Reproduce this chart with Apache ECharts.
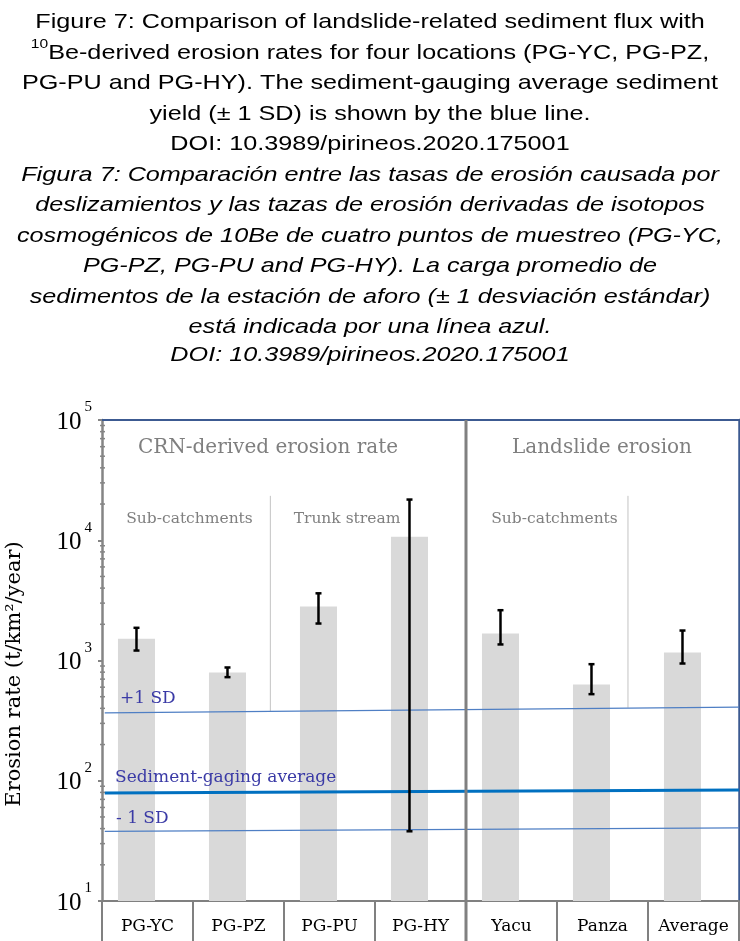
<!DOCTYPE html>
<html><head><meta charset="utf-8">
<script src="https://cdn.jsdelivr.net/npm/echarts@6/dist/echarts.min.js"></script>
<style>html,body{margin:0;padding:0;background:#fff}#c{width:740px;height:941px}</style>
</head><body><div id="c"></div>
<script>
// ---- data ----
const categories = ['PG-YC', 'PG-PZ', 'PG-PU', 'PG-HY', 'Yacu', 'Panza', 'Average'];
const erosionRate = [1520, 795, 2810, 10700, 1680, 632, 1165];
const errorHigh   = [1870, 875, 3620, 21800, 2620, 932, 1775];
const errorLow    = [1210, 727, 2030, 38, 1360, 525, 944];
const yTickValues = [10, 100, 1000, 10000, 100000];
const yTickExponents = ['1', '2', '3', '4', '5'];
const minorTickValues = [20, 30, 40, 50, 60, 70, 80, 90,
  200, 300, 400, 500, 600, 700, 800, 900,
  2000, 3000, 4000, 5000, 6000, 7000, 8000, 9000,
  20000, 30000, 40000, 50000, 60000, 70000, 80000, 90000];
// reference lines: value at left end and right end of the plot
const lineX = [0.03, 7];
const sdUpper = [367, 409];
const gaugingAverage = [79, 83.7];
const sdLower = [37.9, 40.5];
// thin section dividers (x in category units, from top value to bottom value)
const thinDividerX = [1.85, 5.78];
const thinDividerTop = [23400, 23400];
const thinDividerBottom = [378, 405];
const sectionDividerX = [4];

const serif = 'DejaVu Serif';
const chart = echarts.init(document.getElementById('c'), null, {renderer: 'canvas'});

const titleLines = [
  'Figure 7: Comparison of landslide-related sediment flux with',
  '{sup|10}Be-derived erosion rates for four locations (PG-YC, PG-PZ,',
  'PG-PU and PG-HY). The sediment-gauging average sediment',
  'yield (± 1 SD) is shown by the blue line.',
  'DOI: 10.3989/pirineos.2020.175001',
  '{it|Figura 7: Comparación entre las tasas de erosión causada por}',
  '{it|deslizamientos y las tazas de erosión derivadas de isotopos}',
  '{it|cosmogénicos de 10Be de cuatro puntos de muestreo (PG-YC,}',
  '{it|PG-PZ, PG-PU and PG-HY). La carga promedio de}',
  '{it|sedimentos de la estación de aforo (± 1 desviación estándar)}',
  '{it|está indicada por una línea azul.}',
  '{itl|DOI: 10.3989/pirineos.2020.175001}'
];

const barOffset = -0.121, barFrac = 0.407;

function annText(text, x, y, size, color, align) {
  return {type: 'text', x: x, y: y, z: 100, silent: true,
    style: {text: text, fontFamily: serif, fontSize: size, fill: color,
      align: align || 'center', verticalAlign: 'middle'}};
}

const sans = 'Liberation Sans';
const option = {
  animation: false,
  backgroundColor: '#ffffff',
  grid: {left: 102, top: 420, width: 637, height: 481, containLabel: false},
  xAxis: [{
    type: 'category', data: categories, position: 'bottom',
    axisLine: {lineStyle: {color: '#808080', width: 2}},
    axisTick: {show: true, interval: 0, length: 40, lineStyle: {color: '#808080', width: 2}},
    axisLabel: {fontFamily: serif, fontSize: 17, color: '#000', margin: 17, interval: 0},
    splitLine: {show: false}
  }, {
    type: 'value', min: 0, max: 7, position: 'top',
    axisLine: {show: true, lineStyle: {color: '#3c5a91', width: 2}},
    axisTick: {show: false}, axisLabel: {show: false}, splitLine: {show: false}
  }],
  yAxis: [{
    type: 'log', logBase: 10, min: 10, max: 100000, offset: 2,
    axisLine: {show: true, lineStyle: {color: '#858585', width: 2.5}},
    axisTick: {show: true, length: 4, lineStyle: {color: '#858585', width: 2}},
    splitLine: {show: false},
    axisLabel: {
      margin: 8,
      formatter: function (v) {
        const idx = yTickValues.findIndex(t => Math.abs(t - v) / t < 1e-6);
        if (idx < 0) return '';
        return '{b|10}{s|' + yTickExponents[idx] + '}';
      },
      rich: {
        b: {fontFamily: 'Liberation Serif', fontSize: 25, color: '#000', height: 25, lineHeight: 30,
            padding: [0, 0, 5, 0], verticalAlign: 'bottom'},
        s: {fontFamily: 'Liberation Serif', fontSize: 15, color: '#000', height: 14, lineHeight: 39,
            padding: [0, 0, 25, 3], verticalAlign: 'bottom'}
      }
    }
  }, {
    type: 'log', logBase: 10, min: 10, max: 100000, position: 'right',
    axisLine: {show: true, lineStyle: {color: '#3c5a91', width: 2.5}},
    axisTick: {show: false}, axisLabel: {show: false}, splitLine: {show: false}
  }],
  graphic: [
    {type: 'text', x: 370, y: 7, scaleX: 1.2, z: 100, silent: true,
     style: {text: titleLines.join('\n'), fontFamily: sans, fontSize: 21, fill: '#000',
       lineHeight: 30.5, align: 'center', verticalAlign: 'top',
       rich: {
         sup: {fontFamily: sans, fontSize: 13, fill: '#000', lineHeight: 16, verticalAlign: 'top', align: 'center'},
         it: {fontFamily: sans, fontSize: 21, fontStyle: 'italic', fill: '#000', lineHeight: 30.5, align: 'center'},
         itl: {fontFamily: sans, fontSize: 21, fontStyle: 'italic', fill: '#000', lineHeight: 25, align: 'center'}
       }}},
    annText('CRN-derived erosion rate', 268, 448, 20, '#7f7f7f'),
    annText('Landslide erosion', 602, 448, 20, '#7f7f7f'),
    annText('Sub-catchments', 189.5, 519, 15.5, '#7f7f7f'),
    annText('Trunk stream', 347, 519, 15.5, '#7f7f7f'),
    annText('Sub-catchments', 554.5, 519, 15.5, '#7f7f7f'),
    annText('+1 SD', 120, 699, 17, '#3a3aa6', 'left'),
    annText('Sediment-gaging average', 115, 778, 17, '#3a3aa6', 'left'),
    annText('- 1 SD', 116, 818.5, 17, '#3a3aa6', 'left'),
    {type: 'text', x: 15, y: 674, rotation: Math.PI / 2, z: 100, silent: true,
     style: {text: 'Erosion rate (t/km²/year)', fontFamily: serif, fontSize: 21, fill: '#000',
       align: 'center', verticalAlign: 'middle'}}
  ],
  series: [
    {
      name: 'bars', type: 'custom', xAxisIndex: 0, yAxisIndex: 0, z: 2,
      data: categories.map((c, i) => [i, erosionRate[i]]),
      renderItem: function (params, api) {
        const i = api.value(0), v = api.value(1);
        const band = api.size([1, 0], [i, v])[0];
        const p = api.coord([i, v]);
        const base = api.coord([i, 10])[1];
        const w = band * barFrac;
        const cx = p[0] + band * barOffset;
        return {type: 'rect', shape: {x: cx - w / 2, y: p[1], width: w, height: base - p[1]},
          style: {fill: '#d9d9d9'}};
      }
    },
    {
      name: 'thin dividers', type: 'custom', xAxisIndex: 1, yAxisIndex: 0, z: 3, clip: false,
      data: thinDividerX.map((x, i) => [x, thinDividerTop[i], thinDividerBottom[i]]),
      renderItem: function (params, api) {
        const a = api.coord([api.value(0), api.value(1)]);
        const b = api.coord([api.value(0), api.value(2)]);
        return {type: 'line', shape: {x1: a[0], y1: a[1], x2: b[0], y2: b[1]},
          style: {stroke: '#c3c3c3', lineWidth: 1}};
      }
    },
    {
      name: '+1 SD', type: 'line', xAxisIndex: 1, yAxisIndex: 0, z: 4, symbol: 'none', silent: true,
      data: lineX.map((x, i) => [x, sdUpper[i]]),
      lineStyle: {color: '#4f7fc4', width: 1.3}
    },
    {
      name: 'Sediment-gaging average', type: 'line', xAxisIndex: 1, yAxisIndex: 0, z: 4, symbol: 'none', silent: true,
      data: lineX.map((x, i) => [x, gaugingAverage[i]]),
      lineStyle: {color: '#0070c0', width: 3}
    },
    {
      name: '-1 SD', type: 'line', xAxisIndex: 1, yAxisIndex: 0, z: 4, symbol: 'none', silent: true,
      data: lineX.map((x, i) => [x, sdLower[i]]),
      lineStyle: {color: '#4f7fc4', width: 1.3}
    },
    {
      name: 'error bars', type: 'custom', xAxisIndex: 0, yAxisIndex: 0, z: 5, clip: false,
      data: categories.map((c, i) => [i, errorLow[i], errorHigh[i]]),
      renderItem: function (params, api) {
        const i = api.value(0);
        const band = api.size([1, 0], [i, api.value(1)])[0];
        const lo = api.coord([i, api.value(1)]);
        const hi = api.coord([i, api.value(2)]);
        const cx = lo[0] + band * barOffset;
        const cap = 3;
        const st = {stroke: '#000', lineWidth: 2.5};
        return {type: 'group', children: [
          {type: 'line', shape: {x1: cx, y1: hi[1], x2: cx, y2: lo[1]}, style: st},
          {type: 'line', shape: {x1: cx - cap, y1: hi[1], x2: cx + cap, y2: hi[1]}, style: st},
          {type: 'line', shape: {x1: cx - cap, y1: lo[1], x2: cx + cap, y2: lo[1]}, style: st}
        ]};
      }
    },
    {
      name: 'minor ticks', type: 'custom', xAxisIndex: 1, yAxisIndex: 0, z: 6, clip: false,
      data: minorTickValues.map(v => [0, v]),
      renderItem: function (params, api) {
        const p = api.coord([0, api.value(1)]);
        return {type: 'line', shape: {x1: p[0] - 2, y1: p[1], x2: p[0] + 3, y2: p[1]},
          style: {stroke: '#858585', lineWidth: 1.5}};
      }
    },
    {
      name: 'section divider', type: 'custom', xAxisIndex: 1, yAxisIndex: 0, z: 6, clip: false,
      data: sectionDividerX.map(x => [x]),
      renderItem: function (params, api) {
        const x = api.value(0);
        const top = api.coord([x, 100000]);
        const bot = api.coord([x, 10]);
        return {type: 'line', shape: {x1: top[0], y1: top[1], x2: top[0], y2: bot[1] + 40},
          style: {stroke: '#808080', lineWidth: 3}};
      }
    }
  ]
};
chart.setOption(option);
</script>
</body></html>
